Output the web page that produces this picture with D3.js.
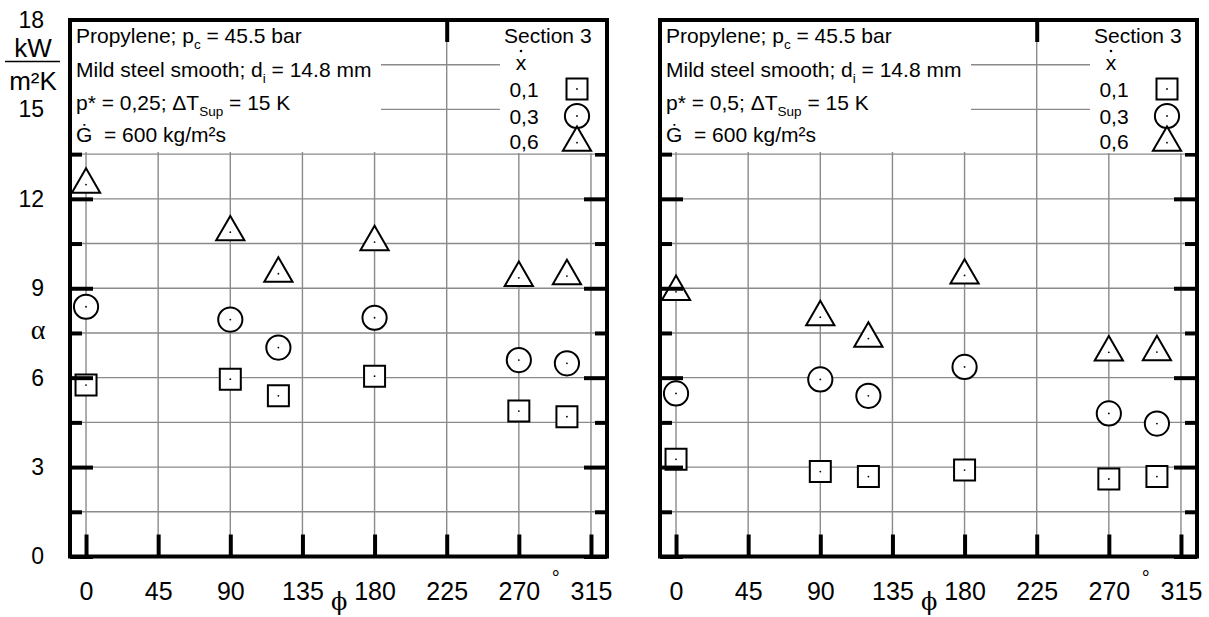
<!DOCTYPE html>
<html>
<head>
<meta charset="utf-8">
<script src="https://cdn.jsdelivr.net/npm/d3@7"></script>
<style>
  body { margin: 0; background: #fff; }
  svg { display: block; font-family: "Liberation Sans", Arial, sans-serif; }
</style>
</head>
<body>
<svg id="chart" width="1209" height="617"></svg>
<script>
// Circumferential angle of the measuring position (degrees)
const phiDeg = [0, 90, 120, 180, 270, 300];
const xTickValues = [0, 45, 90, 135, 180, 225, 270, 315];
const yMajorTicks = [0, 3, 6, 9, 12, 15, 18];
const yMinorTicks = [1.5, 4.5, 7.5, 10.5, 13.5, 16.5];
const qualityLabels = ["0,1", "0,3", "0,6"];
const reducedPressure = ["0,25", "0,5"];

// Local heat transfer coefficient alpha (kW/m²K), p* = 0.25
const alphaP025_x01 = [5.75, 5.95, 5.39, 6.05, 4.88, 4.69];
const alphaP025_x03 = [8.38, 7.95, 7.01, 8.01, 6.59, 6.48];
const alphaP025_x06 = [12.48, 10.88, 9.49, 10.55, 9.35, 9.41];

// Local heat transfer coefficient alpha (kW/m²K), p* = 0.5
const alphaP05_x01 = [3.26, 2.85, 2.68, 2.90, 2.60, 2.68];
const alphaP05_x03 = [5.47, 5.94, 5.39, 6.36, 4.80, 4.46];
const alphaP05_x06 = [8.88, 8.03, 7.31, 9.43, 6.85, 6.86];

const svg = d3.select("#chart");
const sansFont = "Liberation Sans, Arial, sans-serif";

// marker shapes per vapour quality
const shapes = [
  d3.symbol().type(d3.symbolSquare).size(441)(),
  d3.symbol().type(d3.symbolCircle).size(460)(),
  d3.symbol().type(d3.symbolTriangle).size(345)()
];

const gridColor = "#8a8a8a";
const plotTop = 20, plotBottom = 556.5, panelW = 537;

function drawPanel(left, seriesList, pStar, withYLabels) {
  const right = left + panelW;
  const x = d3.scaleLinear().domain([-10, 325]).range([left, right]);
  const y = d3.scaleLinear().domain([0, 18]).range([plotBottom, plotTop]);
  const g = svg.append("g");
  const gridY = yMajorTicks.concat(yMinorTicks).sort((a, b) => a - b);

  // grid
  g.append("g").selectAll("line").data(xTickValues).join("line")
    .attr("x1", d => x(d)).attr("x2", d => x(d))
    .attr("y1", plotTop).attr("y2", plotBottom)
    .attr("stroke", gridColor).attr("stroke-width", 1.4);
  g.append("g").selectAll("line").data(gridY).join("line")
    .attr("x1", left).attr("x2", right)
    .attr("y1", d => y(d)).attr("y2", d => y(d))
    .attr("stroke", gridColor).attr("stroke-width", 1.4);

  // data points
  seriesList.forEach((vals, k) => {
    const pts = g.append("g").selectAll("g").data(vals).join("g")
      .attr("transform", (d, i) => `translate(${x(phiDeg[i])},${y(d)})`);
    pts.append("path").attr("d", shapes[k])
      .attr("fill", "#fff").attr("stroke", "#000").attr("stroke-width", 2);
    pts.append("circle").attr("r", 0.9).attr("fill", "#000");
  });

  // axes with inward ticks
  const styleAxis = sel => {
    sel.select(".domain").remove();
    sel.selectAll(".tick line").attr("stroke", "#000").attr("stroke-width", 4);
  };
  const bx = g.append("g").attr("transform", `translate(0,${plotBottom})`)
    .call(d3.axisBottom(x).tickValues(xTickValues).tickSize(-22).tickPadding(26));
  styleAxis(bx);
  bx.attr("font-family", sansFont).attr("font-size", 25);
  bx.selectAll("text").attr("fill", "#000");

  const tx = g.append("g").attr("transform", `translate(0,${plotTop})`)
    .call(d3.axisTop(x).tickValues(xTickValues).tickSize(-22).tickFormat(""));
  styleAxis(tx);

  const ly = g.append("g").attr("transform", `translate(${left},0)`)
    .call(d3.axisLeft(y).tickValues(yMajorTicks).tickSize(-23).tickPadding(26)
      .tickFormat(withYLabels ? d3.format("d") : ""));
  styleAxis(ly);
  ly.attr("font-family", sansFont).attr("font-size", 23);
  ly.selectAll("text").attr("fill", "#000");
  const lym = g.append("g").attr("transform", `translate(${left},0)`)
    .call(d3.axisLeft(y).tickValues(yMinorTicks).tickSize(-12).tickFormat(""));
  styleAxis(lym);

  const ry = g.append("g").attr("transform", `translate(${right},0)`)
    .call(d3.axisRight(y).tickValues(yMajorTicks).tickSize(-23).tickFormat(""));
  styleAxis(ry);
  const rym = g.append("g").attr("transform", `translate(${right},0)`)
    .call(d3.axisRight(y).tickValues(yMinorTicks).tickSize(-12).tickFormat(""));
  styleAxis(rym);

  // annotation box and legend box
  g.append("rect").attr("x", left).attr("y", plotTop).attr("width", 311).attr("height", 132).attr("fill", "#fff");
  const legLeft = right - 107;
  g.append("rect").attr("x", legLeft).attr("y", plotTop).attr("width", 107).attr("height", 133).attr("fill", "#fff");

  // frame
  g.append("rect").attr("x", left).attr("y", plotTop).attr("width", panelW).attr("height", plotBottom - plotTop)
    .attr("fill", "none").attr("stroke", "#000").attr("stroke-width", 4);

  // conditions text
  const tl = left + 6;
  const addLine = (yy, parts) => {
    const t = g.append("text").attr("x", tl).attr("y", yy).attr("font-size", 21)
      .style("white-space", "pre");
    parts.forEach(p => {
      if (p.sub) {
        t.append("tspan").attr("dy", 6).attr("font-size", 13.5).text(p.sub);
        t.append("tspan").attr("dy", -6).text(p.after);
      } else {
        t.append("tspan").text(p.txt);
      }
    });
  };
  addLine(43, [{ txt: "Propylene; p" }, { sub: "c", after: " = 45.5 bar" }]);
  addLine(76.5, [{ txt: "Mild steel smooth; d" }, { sub: "i", after: " = 14.8 mm" }]);
  addLine(110, [{ txt: `p* = ${pStar}; \u0394T` }, { sub: "Sup", after: " = 15 K" }]);
  addLine(141.5, [{ txt: "\u0120  = 600 kg/m\u00B2s" }]);

  // legend
  g.append("text").attr("x", legLeft + 4).attr("y", 43).attr("font-size", 21).text("Section 3");
  g.append("text").attr("x", legLeft + 21).attr("y", 70).attr("font-size", 21)
    .attr("text-anchor", "middle").text("x");
  g.append("circle").attr("cx", legLeft + 21).attr("cy", 51).attr("r", 1.3).attr("fill", "#000");
  const legY = [97, 123.5, 148.5];
  const legMarkY = [89, 116, 142.7];
  qualityLabels.forEach((lab, k) => {
    g.append("text").attr("x", legLeft + 24).attr("y", legY[k]).attr("font-size", 21)
      .attr("text-anchor", "middle").text(lab);
    const m = g.append("g").attr("transform", `translate(${right - 30},${legMarkY[k]})`);
    m.append("path").attr("d", shapes[k]).attr("fill", "#fff").attr("stroke", "#000").attr("stroke-width", 2);
    m.append("circle").attr("r", 0.9).attr("fill", "#000");
  });

  // axis symbols
  g.append("text").attr("x", x(158)).attr("y", 610).attr("font-size", 24)
    .attr("text-anchor", "middle").attr("font-family", "DejaVu Serif, serif").text("\u03D5");
  g.append("text").attr("x", x(293)).attr("y", 585).attr("font-size", 20)
    .attr("text-anchor", "middle").text("\u00B0");

  return { x, y };
}

const leftPanel = drawPanel(70, [alphaP025_x01, alphaP025_x03, alphaP025_x06], reducedPressure[0], true);
drawPanel(660, [alphaP05_x01, alphaP05_x03, alphaP05_x06], reducedPressure[1], false);

// y-axis quantity and unit
const yl = leftPanel.y;
svg.append("text").attr("x", 38).attr("y", yl(7.5) + 6).attr("font-size", 28)
  .attr("text-anchor", "middle").attr("font-family", "Liberation Serif, serif").text("\u03B1");
svg.append("text").attr("x", 33).attr("y", 57).attr("font-size", 26)
  .attr("text-anchor", "middle").text("kW");
svg.append("line").attr("x1", 5).attr("x2", 60).attr("y1", 61.5).attr("y2", 61.5)
  .attr("stroke", "#000").attr("stroke-width", 1.5);
svg.append("text").attr("x", 33).attr("y", 90).attr("font-size", 26)
  .attr("text-anchor", "middle").text("m\u00B2K");
</script>
</body>
</html>
